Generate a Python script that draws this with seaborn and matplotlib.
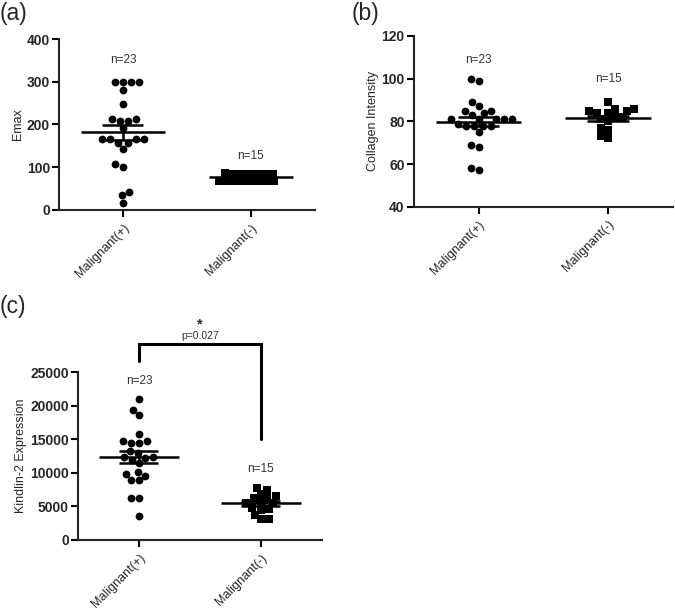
import numpy as np
import pandas as pd
import matplotlib
matplotlib.use("Agg")
import matplotlib.pyplot as plt
import seaborn as sns

sns.set_style("ticks")
plt.rcParams['font.family'] = ['Liberation Sans', 'DejaVu Sans']

categories = ["Malignant(+)", "Malignant(-)"]
n_labels = ["n=23", "n=15"]

emax_pos = [300, 300, 300, 300, 280, 247, 213, 213, 208, 208, 191, 165, 165, 165, 165,
            157, 157, 143, 107, 100, 41, 35, 17]
emax_neg = [86, 85, 85, 85, 85, 85, 85, 68, 68, 68, 68, 68, 68, 68, 68]

coll_pos = [99.9, 98.8, 83, 87, 85, 85, 88.9, 83.9, 81, 81, 81, 81, 81,
            78, 78, 78, 78, 79, 75, 69, 68, 57, 58]
coll_neg = [86, 85, 84, 89, 84, 85, 86, 82, 82, 81, 80, 77, 76, 72, 73]

kind_pos = [21000, 19400, 18600, 15800, 14800, 14500, 14500, 14700, 13200, 12900, 12400,
            12200, 12400, 11900, 10100, 9600, 9900, 9000, 8900, 6300, 6200, 3500, 11400]
kind_neg = [6850, 6260, 7790, 6260, 6600, 7440, 4640, 5520, 5670, 5520, 4540, 3750, 3060,
            3200, 4780]

fig = plt.figure(figsize=(6.75, 6.1), dpi=100)


def panel(rect, pos, neg, ylabel, ylim, yticks, npos_y, letter, letter_xy):
    ax = fig.add_axes(rect)
    df = pd.DataFrame({
        "group": [categories[0]] * len(pos) + [categories[1]] * len(neg),
        "value": list(pos) + list(neg),
    })
    sns.swarmplot(data=df[df.group == categories[0]], x="group", y="value", order=categories,
                  marker="o", color="black", size=5.6, ax=ax, linewidth=0)
    sns.swarmplot(data=df[df.group == categories[1]], x="group", y="value", order=categories,
                  marker="s", color="black", size=5.4, ax=ax, linewidth=0)
    for i, vals in enumerate([pos, neg]):
        v = np.asarray(vals, float)
        m = v.mean()
        s = v.std(ddof=1) / np.sqrt(len(v))
        ax.hlines(m, i - 0.33, i + 0.33, color="black", lw=1.8, zorder=5)
        ax.hlines([m - s, m + s], i - 0.16, i + 0.16, color="black", lw=1.8, zorder=5)
        ax.vlines(i, m - s, m + s, color="black", lw=1.8, zorder=5)
        ax.text(i, npos_y[i], n_labels[i], ha="center", va="center", fontsize=8.5, color="#333333")
    ax.set_xlim(-0.5, 1.5)
    ax.set_ylim(*ylim)
    ax.set_yticks(yticks)
    ax.set_xlabel("")
    ax.set_ylabel(ylabel, fontsize=9, labelpad=2)
    ax.set_xticks([0, 1])
    ax.set_xticklabels(categories, rotation=45, ha="right", rotation_mode="anchor", fontsize=9)
    for lab in ax.get_yticklabels():
        lab.set_fontweight("bold")
        lab.set_fontsize(10)
    for sp in ["top", "right"]:
        ax.spines[sp].set_visible(False)
    for sp in ["left", "bottom"]:
        ax.spines[sp].set_linewidth(1.5)
    ax.tick_params(width=1.5, length=5, color="black")
    ax.tick_params(axis="y", pad=1.5)
    fig.text(letter_xy[0], letter_xy[1], letter, fontsize=16.5, ha="left", va="center")
    return ax


ax_a = panel([0.0874, 0.656, 0.379, 0.280], emax_pos, emax_neg, "Emax", (0, 400),
             [0, 100, 200, 300, 400], [351, 126], "(a)", (0.0, 0.978))
ax_b = panel([0.613, 0.661, 0.384, 0.280], coll_pos, coll_neg, "Collagen Intensity", (40, 120),
             [40, 60, 80, 100, 120], [108.8, 99.9], "(b)", (0.521, 0.978))
ax_c = panel([0.1156, 0.1148, 0.361, 0.275], kind_pos, kind_neg, "Kindlin-2 Expression", (0, 25000),
             [0, 5000, 10000, 15000, 20000, 25000], [23660, 10565], "(c)", (0.0, 0.497))

# significance bracket
ax_c.plot([0, 0, 1, 1], [26600, 29200, 29200, 15000], color="black", lw=2.2,
          clip_on=False, solid_joinstyle="miter")
ax_c.text(0.5, 30400, "p=0.027", ha="center", va="center", fontsize=7.5, color="#333333")
ax_c.text(0.5, 32100, "*", ha="center", va="center", fontsize=10.5, fontweight="bold")

fig.savefig("out.png", dpi=100)
